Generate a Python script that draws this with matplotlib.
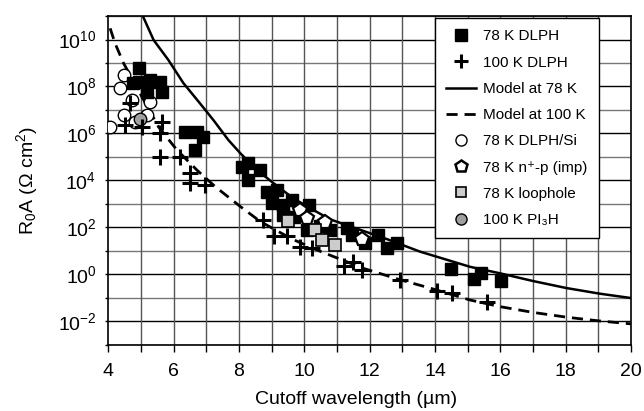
import numpy as np
import matplotlib
matplotlib.use('Agg')
import matplotlib.pyplot as plt
from matplotlib.lines import Line2D
from matplotlib.ticker import FixedLocator, LogFormatterSciNotation, NullFormatter

plt.rcParams['font.family'] = ['Liberation Sans', 'DejaVu Sans']
plt.rcParams['mathtext.fontset'] = 'custom'
plt.rcParams['mathtext.rm'] = 'Liberation Sans'
plt.rcParams['mathtext.it'] = 'Liberation Sans:italic'
plt.rcParams['mathtext.default'] = 'regular'

# 78 K DLPH (black squares)
dlph78_wl = [4.93, 4.77, 4.93, 5.28, 5.59, 5.18, 5.64, 6.35, 6.71, 6.91, 6.66,
             8.09, 8.29, 8.65, 8.29, 8.85, 9.16, 9.01, 9.36, 9.62, 10.13, 9.36,
             9.67, 10.08, 10.48, 10.79, 11.30, 11.45, 11.86, 12.27, 12.52, 12.83,
             14.48, 15.20, 15.41, 16.02]
dlph78_r0a = [5.9e8, 1.4e8, 1.6e8, 1.9e8, 1.6e8, 6.0e7, 6.0e7, 1.2e6, 1.2e6, 7.2e5, 2.0e5,
              3.9e4, 5.4e4, 2.8e4, 1.0e4, 3.3e3, 4.0e3, 1.1e3, 9.1e2, 1.5e3, 9.1e2, 3.4e2,
              2.9e2, 78, 110, 78, 93, 48, 21, 48, 13, 21,
              1.7, 0.63, 1.2, 0.52]

# 100 K DLPH (plus)
dlph100_wl = [4.67, 4.52, 5.03, 5.64, 5.59, 5.59, 6.20, 6.51, 6.51, 6.97, 8.75,
              9.06, 9.46, 9.87, 10.23, 11.20, 11.50, 11.76, 12.93, 14.05, 14.51, 15.58]
dlph100_r0a = [1.9e7, 2.3e6, 1.8e6, 3.2e6, 1.0e6, 1.0e5, 1.0e5, 2.0e4, 7.6e3, 6.5e3, 2.1e2,
               41, 41, 15, 13, 2.3, 3.5, 1.5, 0.59, 0.19, 0.16, 0.069]

# 78 K DLPH/Si (open circles)
si_wl = [4.49, 4.37, 4.73, 5.28, 4.49, 5.19, 4.06, 4.83]
si_r0a = [3.1e8, 8.7e7, 2.7e7, 2.2e7, 6.2e6, 6.2e6, 1.9e6, 3.1e6]

# 78 K n+-p (imp) (pentagons)
imp_wl = [9.87, 10.08, 10.64, 11.76]
imp_r0a = [5.5e2, 2.5e2, 1.7e2, 32]

# 78 K loophole (gray squares)
loop_wl = [9.51, 10.33, 10.54, 10.94]
loop_r0a = [1.8e2, 78, 30, 17]

# 100 K PI3H (gray circle)
pi3h_wl = [4.98]
pi3h_r0a = [4.0e6]

# model curves
model78_wl = [5.06, 5.39, 5.84, 6.30, 6.81, 7.22, 7.68, 8.04, 8.55, 9.06, 9.67,
              10.28, 10.79, 11.50, 12.52, 13.54, 15.07, 16.0, 17.0, 18.03, 19.05, 20.0]
model78_r0a = [1e11, 9.5e9, 1.35e9, 1.4e8, 1.9e7, 3.7e6, 5.2e5, 1.45e5, 2.8e4, 7.6e3, 1.7e3,
               5.5e2, 2.2e2, 1.0e2, 32, 9.3, 2.1, 1.1, 0.52, 0.26, 0.15, 0.098]
model100_wl = [4.06, 4.21, 4.47, 5.28, 5.54, 6.10, 6.71, 7.27, 8.04, 8.65, 9.21,
               9.67, 10.38, 11.81, 12.93, 13.85, 15.07, 16.0, 17.0, 18.03, 19.0, 20.0]
model100_r0a = [3.0e10, 6.9e9, 9.8e8, 8.5e6, 1.9e6, 2.0e5, 2.8e4, 5.5e3, 7.8e2, 1.8e2, 66,
                30, 11, 1.8, 0.59, 0.26, 0.081, 0.042, 0.024, 0.015, 0.0105, 0.0078]

fig = plt.figure(figsize=(6.44, 4.11), dpi=100)
ax = fig.add_axes([0.168, 0.161, 0.812, 0.800])

ax.set_yscale('log')
ax.set_xlim(4, 20)
ax.set_ylim(1e-3, 1e11)

# grid
for k in range(-3, 12):
    c = 'black' if k % 2 == 0 else '#777777'
    ax.axhline(10.0 ** k, color=c, lw=1.0, zorder=1)
for x in range(5, 20):
    ax.axvline(x, color='#555555', lw=1.0, zorder=1)

ax.plot(model78_wl, model78_r0a, color='black', lw=1.8, zorder=3)
ax.plot(model100_wl, model100_r0a, color='black', lw=2.0, dashes=(4, 2.5), zorder=3)

ax.plot(si_wl, si_r0a, 'o', ms=9, mfc='white', mec='black', mew=1.0, zorder=4)
ax.plot(pi3h_wl, pi3h_r0a, 'o', ms=9, mfc='#a0a0a0', mec='black', mew=1.0, zorder=5)
ax.plot(dlph100_wl, dlph100_r0a, '+', ms=11, mec='black', mew=2.2, zorder=5)
ax.plot(imp_wl, imp_r0a, 'p', ms=10, mfc='white', mec='black', mew=1.6, zorder=5)
ax.plot(loop_wl, loop_r0a, 's', ms=8, mfc='#cccccc', mec='black', mew=1.2, zorder=5)
ax.plot(dlph78_wl, dlph78_r0a, 's', ms=9, mfc='black', mec='black', zorder=4)

ax.xaxis.set_major_locator(FixedLocator(range(4, 21, 2)))
ax.xaxis.set_minor_locator(FixedLocator(range(5, 20, 2)))
ax.yaxis.set_major_locator(FixedLocator([10.0 ** k for k in range(-2, 11, 2)]))
ax.yaxis.set_minor_locator(FixedLocator([10.0 ** k for k in range(-3, 12, 2)]))
ax.yaxis.set_major_formatter(LogFormatterSciNotation())
ax.yaxis.set_minor_formatter(NullFormatter())
ax.tick_params(axis='x', which='both', direction='out', length=5, width=1, labelsize=14, pad=8)
ax.tick_params(axis='y', which='both', direction='out', length=2.5, width=1, labelsize=14, pad=6)
for s in ax.spines.values():
    s.set_linewidth(1.2)

ax.set_xlabel('Cutoff wavelength (µm)', fontsize=14)
ax.xaxis.set_label_coords(0.474, -0.14)
ax.set_ylabel('R$_0$A (Ω cm$^2$)', fontsize=14, labelpad=13)

handles = [
    Line2D([], [], ls='none', marker='s', ms=8, mfc='black', mec='black'),
    Line2D([], [], ls='none', marker='+', ms=10, mec='black', mew=2.2),
    Line2D([], [], color='black', lw=1.8),
    Line2D([], [], color='black', lw=2.0, dashes=(4, 2.5)),
    Line2D([], [], ls='none', marker='o', ms=8, mfc='white', mec='black', mew=1.0),
    Line2D([], [], ls='none', marker='p', ms=9, mfc='white', mec='black', mew=1.8),
    Line2D([], [], ls='none', marker='s', ms=7, mfc='#cccccc', mec='black', mew=1.2),
    Line2D([], [], ls='none', marker='o', ms=8, mfc='#a0a0a0', mec='black', mew=1.0),
]
labels = ['78 K DLPH', '100 K DLPH', 'Model at 78 K', 'Model at 100 K',
          '78 K DLPH/Si', '78 K n\u207a-p (imp)', '78 K loophole', '100 K PI\u2083H']
leg = ax.legend(handles, labels, loc='upper left', bbox_to_anchor=(0.625, 0.994),
                borderaxespad=0, fontsize=11, frameon=True, fancybox=False,
                edgecolor='black', framealpha=1, handlelength=1.9, handletextpad=0.5,
                labelspacing=0.8, borderpad=0.75)
leg.get_frame().set_linewidth(1.0)
leg.set_zorder(10)

fig.savefig('out.png', dpi=100)
